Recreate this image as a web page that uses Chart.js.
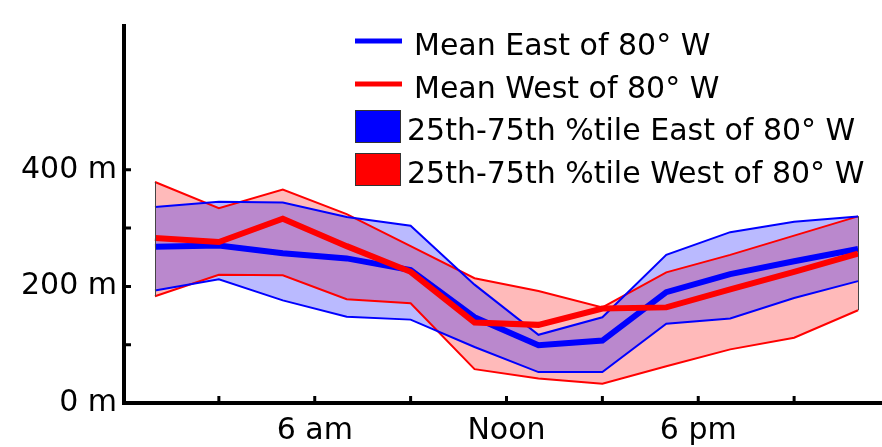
<!DOCTYPE html>
<html>
<head>
<meta charset="utf-8">
<script src="https://cdn.jsdelivr.net/npm/chart.js@4.4.0/dist/chart.umd.min.js"></script>
<style>
  html, body { margin: 0; padding: 0; background: #fff; }
  canvas { display: block; }
</style>
</head>
<body>
<canvas id="chart" width="882" height="447"></canvas>
<script>
// hour of day for each sample
const hours = [1, 3, 5, 7, 9, 11, 13, 15, 17, 19, 21, 23];

const eastMean = [268, 270, 257, 248, 228, 147, 99, 107, 190, 221, 243, 264];
const westMean = [283, 276, 316, 269, 225, 138, 134, 162, 164, 195, 225, 256];
const eastP75 = [336, 345, 344, 319, 304, 203, 117, 147, 254, 293, 311, 320];
const eastP25 = [193, 212, 176, 148, 143, 96, 53, 53, 136, 145, 180, 209];
const westP75 = [379, 334, 366, 324, 269, 214, 192, 164, 224, 254, 287, 320];
const westP25 = [183, 220, 219, 178, 171, 58, 42, 33, 63, 92, 112, 159];

const xTicks = [3, 6, 9, 12, 15, 18, 21];
const xTickLabels = { 6: '6 am', 12: 'Noon', 18: '6 pm' };
const yTicks = [0, 100, 200, 300, 400];
const yTickLabels = { 0: '0 m', 200: '200 m', 400: '400 m' };

const legendItems = [
    { label: 'Mean East of 80° W', kind: 'line', color: '#0000ff' },
    { label: 'Mean West of 80° W', kind: 'line', color: '#ff0000' },
    { label: '25th-75th %tile East of 80° W', kind: 'box', color: '#0000ff' },
    { label: '25th-75th %tile West of 80° W', kind: 'box', color: '#ff0000' }
];

const FONT = '"DejaVu Sans", sans-serif';
const BLUE = '#0000ff';
const RED = '#ff0000';

const pts = vals => vals.map((v, i) => ({ x: hours[i], y: v }));

const axesPlugin = {
    id: 'matlabAxes',
    afterDatasetsDraw(chart) {
        const { ctx, scales: { x, y } } = chart;
        ctx.save();

        // dark side edges of the percentile patches
        ctx.strokeStyle = '#444';
        ctx.lineWidth = 1;
        [[westP25, westP75], [eastP25, eastP75]].forEach(([lo, hi]) => {
            [0, hours.length - 1].forEach(i => {
                const px = Math.round(x.getPixelForValue(hours[i])) + 0.5;
                ctx.beginPath();
                ctx.moveTo(px, y.getPixelForValue(lo[i]));
                ctx.lineTo(px, y.getPixelForValue(hi[i]));
                ctx.stroke();
            });
        });

        const left = x.getPixelForValue(0) + 1;
        const bottom = y.getPixelForValue(0);
        ctx.strokeStyle = '#000';
        ctx.lineWidth = 4;
        ctx.beginPath();
        ctx.moveTo(left, y.getPixelForValue(y.max));
        ctx.lineTo(left, bottom + 2);
        ctx.moveTo(left - 2, bottom);
        ctx.lineTo(chart.width, bottom);
        ctx.stroke();

        // inward ticks
        ctx.lineWidth = 3;
        ctx.beginPath();
        yTicks.forEach(v => {
            if (v === 0) return;
            const py = y.getPixelForValue(v);
            ctx.moveTo(left, py);
            ctx.lineTo(left + 7, py);
        });
        xTicks.forEach(v => {
            const px = x.getPixelForValue(v);
            ctx.moveTo(px, bottom);
            ctx.lineTo(px, bottom - 7);
        });
        ctx.stroke();
        ctx.restore();
    },
    afterDraw(chart) {
        const ctx = chart.ctx;
        ctx.save();
        ctx.font = '30px ' + FONT;
        ctx.textBaseline = 'alphabetic';
        ctx.fillStyle = '#000';
        const baselines = [55, 98, 140, 183];
        legendItems.forEach((item, i) => {
            const base = baselines[i];
            if (item.kind === 'line') {
                ctx.strokeStyle = item.color;
                ctx.lineWidth = 5;
                ctx.beginPath();
                ctx.moveTo(355, base - 14);
                ctx.lineTo(402, base - 14);
                ctx.stroke();
                ctx.fillStyle = '#000';
                ctx.fillText(item.label, 414, base);
            } else {
                ctx.fillStyle = item.color;
                ctx.fillRect(355, base - 30, 46, 33);
                ctx.strokeStyle = '#333';
                ctx.lineWidth = 1;
                ctx.strokeRect(355.5, base - 29.5, 45, 32);
                ctx.fillStyle = '#000';
                ctx.fillText(item.label, 407, base);
            }
        });
        ctx.restore();
    }
};

new Chart(document.getElementById('chart').getContext('2d'), {
    type: 'line',
    data: {
        datasets: [
            {
                label: 'West 25th',
                data: pts(westP25),
                borderColor: RED,
                borderWidth: 2,
                fill: false,
                order: 5
            },
            {
                label: '25th-75th %tile West of 80° W',
                data: pts(westP75),
                borderColor: RED,
                borderWidth: 2,
                backgroundColor: 'rgba(255, 0, 0, 0.27)',
                fill: '-1',
                order: 4
            },
            {
                label: 'East 25th',
                data: pts(eastP25),
                borderColor: BLUE,
                borderWidth: 2,
                fill: false,
                order: 3
            },
            {
                label: '25th-75th %tile East of 80° W',
                data: pts(eastP75),
                borderColor: BLUE,
                borderWidth: 2,
                backgroundColor: 'rgba(0, 0, 255, 0.27)',
                fill: '-1',
                order: 2
            },
            {
                label: 'Mean East of 80° W',
                data: pts(eastMean),
                borderColor: BLUE,
                borderWidth: 6,
                fill: false,
                order: 1
            },
            {
                label: 'Mean West of 80° W',
                data: pts(westMean),
                borderColor: RED,
                borderWidth: 6,
                fill: false,
                order: 0
            }
        ]
    },
    options: {
        responsive: false,
        animation: false,
        devicePixelRatio: 1,
        layout: { padding: { top: 10, right: 0, left: 0, bottom: 0 } },
        elements: {
            point: { radius: 0 },
            line: { tension: 0, borderJoinStyle: 'miter', borderCapStyle: 'butt' }
        },
        plugins: {
            legend: { display: false },
            tooltip: { enabled: false },
            // all patch fills go down before any outline is stroked
            filler: { drawTime: 'beforeDatasetsDraw' }
        },
        scales: {
            x: {
                type: 'linear',
                min: 0,
                max: 23.75,
                afterBuildTicks: s => { s.ticks = xTicks.map(v => ({ value: v })); },
                afterFit: s => { s.height = 44; },
                grid: { display: false, drawTicks: false },
                border: { display: false },
                ticks: {
                    autoSkip: false,
                    maxRotation: 0,
                    padding: 10,
                    color: '#000',
                    font: { family: FONT, size: 30 },
                    callback: v => xTickLabels[v] || ''
                }
            },
            y: {
                min: 0,
                max: 650,
                afterBuildTicks: s => { s.ticks = yTicks.map(v => ({ value: v })); },
                afterFit: s => { s.width = 123; },
                grid: { display: false, drawTicks: false },
                border: { display: false },
                ticks: {
                    padding: 6,
                    color: '#000',
                    font: { family: FONT, size: 30 },
                    callback: v => yTickLabels[v] || ''
                }
            }
        }
    },
    plugins: [axesPlugin]
});
</script>
</body>
</html>
